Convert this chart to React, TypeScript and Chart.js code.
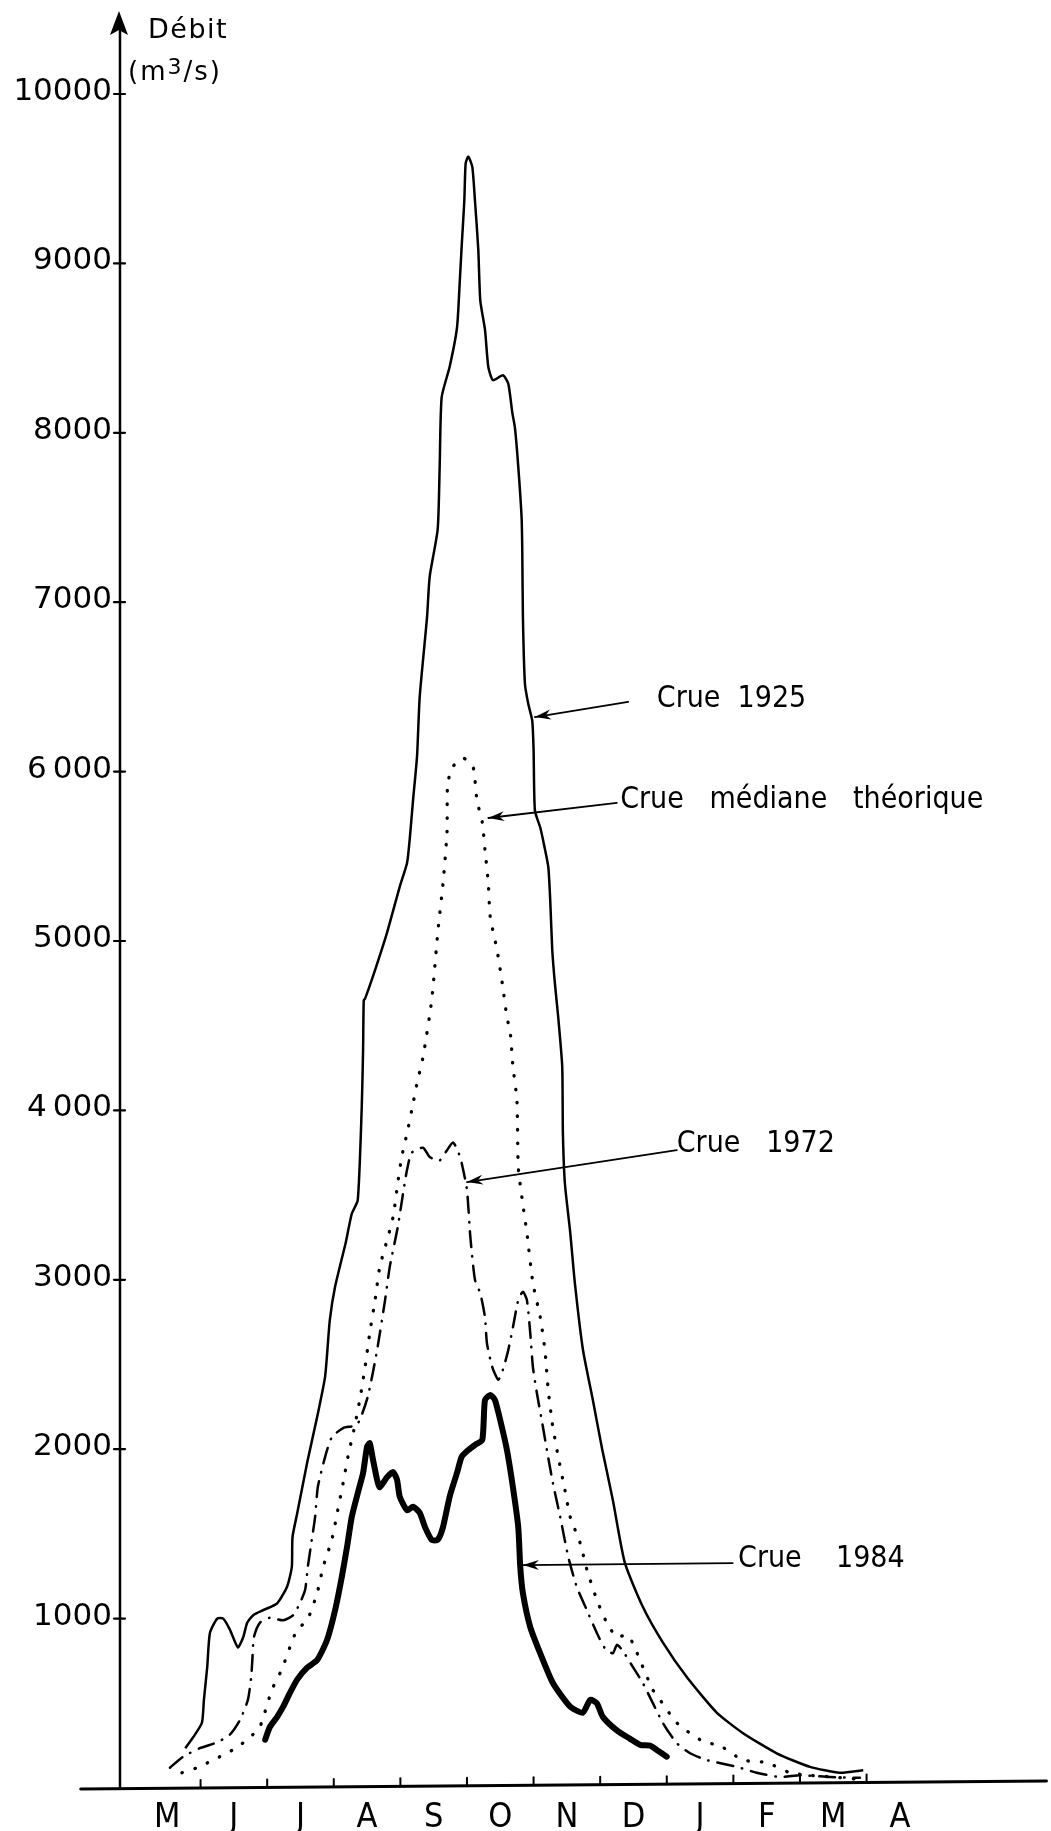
import React, { useEffect, useRef } from 'react';
import { Chart, registerables } from 'chart.js';

Chart.register(...registerables);

// x values are month positions (0 = 1 May, 1 = 1 June, ... 12 = 1 May next year)
// y values are discharge (m3/s)
const months = ['M', 'J', 'J', 'A', 'S', 'O', 'N', 'D', 'J', 'F', 'M', 'A'];
const monthTicks = [1, 2, 3, 4, 5, 6, 7, 8, 9, 10, 11];
const yTickValues = [1000, 2000, 3000, 4000, 5000, 6000, 7000, 8000, 9000, 10000];
const yTickLabels = ['1000', '2000', '3000', '4\u2009000', '5000', '6\u2009000', '7000', '8000', '9000', '10000'];

const crue1925: [number, number][] = [
  [0.77, 235], [0.89, 300], [1.02, 385], [1.05, 520], [1.10, 715], [1.14, 915], [1.25, 1000],
  [1.34, 1000], [1.44, 935], [1.56, 830], [1.64, 890], [1.70, 975], [1.79, 1020], [1.94, 1050],
  [2.15, 1090], [2.30, 1190], [2.37, 1305], [2.38, 1480], [2.45, 1620], [2.60, 1920], [2.75, 2190],
  [2.87, 2430], [2.94, 2760], [3.02, 2960], [3.18, 3220], [3.27, 3390], [3.36, 3470], [3.42, 4020],
  [3.44, 4360], [3.45, 4650], [3.47, 4660], [3.57, 4770], [3.80, 5050], [3.99, 5320], [4.10, 5460],
  [4.14, 5600], [4.19, 5830], [4.25, 6090], [4.29, 6440], [4.40, 6910], [4.44, 7150], [4.56, 7430],
  [4.59, 7800], [4.62, 8210], [4.74, 8390], [4.85, 8620], [4.89, 8880], [4.92, 9100], [4.96, 9370],
  [4.98, 9590], [5.02, 9630], [5.08, 9570], [5.12, 9370], [5.17, 9080], [5.20, 8780], [5.27, 8610],
  [5.32, 8390], [5.39, 8310], [5.54, 8340], [5.62, 8290], [5.68, 8120], [5.72, 8030], [5.77, 7800],
  [5.82, 7500], [5.83, 7310], [5.84, 6910], [5.87, 6520], [5.92, 6400], [5.98, 6300], [6.00, 6130],
  [6.02, 5770], [6.10, 5670], [6.14, 5600], [6.22, 5440], [6.25, 5240], [6.28, 4950], [6.32, 4750],
  [6.37, 4550], [6.43, 4260], [6.44, 3870], [6.47, 3570], [6.55, 3280], [6.62, 2980], [6.74, 2590],
  [6.89, 2290], [7.03, 2000], [7.19, 1700], [7.37, 1330], [7.64, 1070], [7.94, 860], [8.30, 655],
  [8.75, 445], [9.14, 325], [9.65, 205], [10.15, 125], [10.60, 90], [10.95, 105],
];

const crueMediane: [number, number][] = [
  [0.72, 90], [0.95, 120], [1.11, 150], [1.29, 185], [1.55, 240], [1.74, 300], [1.89, 360],
  [2.07, 580], [2.22, 700], [2.34, 830], [2.45, 935], [2.60, 990], [2.75, 1150], [2.84, 1305],
  [2.97, 1465], [3.05, 1620], [3.14, 1800], [3.22, 1970], [3.30, 2110], [3.39, 2290], [3.47, 2485],
  [3.54, 2685], [3.62, 2880], [3.69, 3075], [3.78, 3205], [3.89, 3370], [3.96, 3570], [4.02, 3725],
  [4.10, 3865], [4.17, 4000], [4.25, 4160], [4.34, 4315], [4.47, 4650], [4.56, 5045], [4.64, 5340],
  [4.70, 5640], [4.71, 5930], [4.79, 6030], [4.94, 6080], [5.09, 6030], [5.15, 5830], [5.23, 5700],
  [5.27, 5540], [5.32, 5340], [5.35, 5140], [5.45, 4950], [5.53, 4750], [5.60, 4550], [5.65, 4460],
  [5.69, 4260], [5.75, 4060], [5.77, 3665], [5.83, 3470], [5.90, 3275], [5.99, 2980], [6.10, 2780],
  [6.17, 2585], [6.22, 2350], [6.28, 2155], [6.37, 1955], [6.47, 1760], [6.55, 1600], [6.70, 1445],
  [6.80, 1290], [6.95, 1110], [7.10, 975], [7.25, 890], [7.40, 905], [7.49, 855], [7.64, 715],
  [7.79, 580], [7.90, 520], [8.15, 385], [8.50, 285], [8.84, 240], [9.14, 165], [9.50, 150],
  [9.85, 90], [10.15, 75], [10.50, 65], [10.90, 50],
];

const crue1972: [number, number][] = [
  [0.54, 120], [0.74, 185], [0.99, 235], [1.25, 270], [1.44, 315], [1.59, 400], [1.71, 520],
  [1.76, 655], [1.78, 775], [1.80, 890], [1.89, 975], [2.04, 1005], [2.24, 990], [2.39, 1020],
  [2.49, 1090], [2.57, 1170], [2.61, 1305], [2.67, 1465], [2.72, 1600], [2.76, 1775], [2.87, 1955],
  [2.97, 2070], [3.14, 2125], [3.35, 2145], [3.51, 2310], [3.65, 2585], [3.77, 2880], [3.84, 3075],
  [3.96, 3310], [4.04, 3510], [4.10, 3650], [4.17, 3750], [4.34, 3780], [4.44, 3725], [4.59, 3705],
  [4.70, 3765], [4.79, 3810], [4.86, 3765], [4.92, 3690], [5.00, 3530], [5.05, 3255], [5.12, 3000],
  [5.20, 2920], [5.27, 2780], [5.30, 2625], [5.38, 2485], [5.47, 2410], [5.54, 2470], [5.62, 2585],
  [5.69, 2720], [5.77, 2880], [5.84, 2930], [5.90, 2880], [5.95, 2685], [5.99, 2485], [6.05, 2330],
  [6.13, 2155], [6.20, 1995], [6.29, 1800], [6.40, 1600], [6.52, 1365], [6.65, 1185], [6.80, 1050],
  [6.95, 915], [7.07, 825], [7.19, 795], [7.25, 845], [7.33, 815], [7.49, 715], [7.64, 620],
  [7.94, 385], [8.15, 265], [8.35, 205], [8.60, 165], [9.05, 125], [9.35, 90], [9.70, 65],
  [10.0, 75], [10.45, 65], [10.9, 60],
];

const crue1984: [number, number][] = [
  [1.97, 285], [2.04, 360], [2.15, 420], [2.24, 480], [2.34, 560], [2.45, 640], [2.60, 710],
  [2.75, 755], [2.90, 875], [3.02, 1050], [3.12, 1245], [3.20, 1425], [3.27, 1600], [3.36, 1740],
  [3.44, 1860], [3.50, 2015], [3.54, 2035], [3.59, 1935], [3.65, 1820], [3.69, 1775], [3.80, 1835],
  [3.89, 1865], [3.95, 1820], [3.99, 1720], [4.10, 1640], [4.19, 1660], [4.29, 1625], [4.37, 1540],
  [4.47, 1465], [4.56, 1465], [4.64, 1540], [4.74, 1720], [4.85, 1860], [4.92, 1955], [5.02, 1995],
  [5.12, 2025], [5.23, 2055], [5.27, 2290], [5.35, 2320], [5.42, 2290], [5.50, 2170], [5.60, 1995],
  [5.69, 1775], [5.77, 1540], [5.80, 1305], [5.84, 1150], [5.95, 950], [6.10, 795], [6.29, 620],
  [6.55, 480], [6.74, 445], [6.85, 520], [6.95, 500], [7.04, 420], [7.25, 340], [7.45, 290],
  [7.60, 255], [7.75, 250], [7.85, 225], [8.00, 185],
];

// annotation labels: text, text anchor (month, débit), arrow start and arrow tip
const annotations = [
  { text: 'Crue  1925', tx: 7.85, ty: 6381, ax0: 7.42, ay0: 6411, ax1: 6.02, ay1: 6322 },
  { text: 'Crue   médiane   théorique', tx: 7.30, ty: 5785, ax0: 7.25, ay0: 5815, ax1: 5.32, ay1: 5726 },
  { text: 'Crue   1972', tx: 8.15, ty: 3754, ax0: 8.15, ay0: 3766, ax1: 5.00, ay1: 3577 },
  { text: 'Crue    1984', tx: 9.07, ty: 1305, ax0: 8.99, ay0: 1328, ax1: 5.84, ay1: 1316 },
];

const Y_AXIS_AT = -0.21;
const FONT = '"DejaVu Sans"';
const FONT_COND = '"DejaVu Sans Condensed", "DejaVu Sans"';

const toPts = (arr: [number, number][]) => arr.map(([x, y]) => ({ x, y }));

const setSpacing = (ctx: any, px: number) => {
  if ('letterSpacing' in ctx) ctx.letterSpacing = `${px}px`;
};

const drawPlugin = {
  id: 'handDrawnAxes',
  beforeDraw(chart: any) {
    const ctx = chart.ctx;
    ctx.save();
    ctx.fillStyle = '#ffffff';
    ctx.fillRect(0, 0, chart.width, chart.height);
    ctx.restore();
  },
  afterDatasetsDraw(chart: any) {
    const { ctx } = chart;
    const xs = chart.scales.x;
    const ys = chart.scales.y;
    const x0 = xs.getPixelForValue(Y_AXIS_AT);
    const yb = ys.getPixelForValue(0);
    const slope = 8 / (xs.right - xs.left);
    const baseAt = (px: number) => yb + 1 - slope * (px - xs.left);

    ctx.save();
    ctx.strokeStyle = '#000';
    ctx.fillStyle = '#000';
    ctx.lineCap = 'round';

    // x axis
    ctx.lineWidth = 3;
    ctx.beginPath();
    ctx.moveTo(xs.left, baseAt(xs.left));
    ctx.lineTo(xs.right, baseAt(xs.right));
    ctx.stroke();

    // y axis with arrow
    const yTip = ys.getPixelForValue(10490);
    ctx.lineWidth = 2.5;
    ctx.beginPath();
    ctx.moveTo(x0, baseAt(x0));
    ctx.lineTo(x0, yTip + 12);
    ctx.stroke();
    ctx.beginPath();
    ctx.moveTo(x0 - 1, yTip);
    ctx.lineTo(x0 - 10, yTip + 24);
    ctx.lineTo(x0 - 1, yTip + 19);
    ctx.lineTo(x0 + 8, yTip + 24);
    ctx.closePath();
    ctx.fill();

    // y ticks and labels
    ctx.lineWidth = 2.2;
    ctx.font = `31px ${FONT}`;
    ctx.textAlign = 'right';
    ctx.textBaseline = 'alphabetic';
    yTickValues.forEach((v, i) => {
      const py = ys.getPixelForValue(v);
      ctx.beginPath();
      ctx.moveTo(x0 - 6, py);
      ctx.lineTo(x0 + 5, py);
      ctx.stroke();
      ctx.fillText(yTickLabels[i], x0 - 8, py + 6);
    });

    // month ticks
    ctx.lineWidth = 2;
    monthTicks.forEach((m) => {
      const px = xs.getPixelForValue(m);
      const b = baseAt(px);
      ctx.beginPath();
      ctx.moveTo(px, b);
      ctx.lineTo(px, b - 8);
      ctx.stroke();
    });

    // month labels
    ctx.font = `34px ${FONT_COND}`;
    ctx.textAlign = 'center';
    months.forEach((m, i) => {
      const px = xs.getPixelForValue(i + 0.5);
      ctx.fillText(m, px, yb + 39);
    });

    // axis title
    ctx.textAlign = 'left';
    setSpacing(ctx, 1.5);
    ctx.font = `27px ${FONT}`;
    ctx.fillText('Débit', x0 + 28, yTip + 27);
    setSpacing(ctx, 2);
    let tx = x0 + 8;
    const ty = yTip + 69;
    ctx.font = `26px ${FONT}`;
    ctx.fillText('(m', tx, ty);
    tx += ctx.measureText('(m').width;
    ctx.font = `22px ${FONT}`;
    ctx.fillText('3', tx, ty - 6);
    tx += ctx.measureText('3').width;
    ctx.font = `26px ${FONT}`;
    ctx.fillText('/s)', tx, ty);
    setSpacing(ctx, 0);

    // annotations
    ctx.font = `30px ${FONT_COND}`;
    annotations.forEach((a) => {
      ctx.fillText(a.text, xs.getPixelForValue(a.tx), ys.getPixelForValue(a.ty));
      const sx = xs.getPixelForValue(a.ax0);
      const sy = ys.getPixelForValue(a.ay0);
      const ex = xs.getPixelForValue(a.ax1);
      const ey = ys.getPixelForValue(a.ay1);
      ctx.lineWidth = 1.8;
      ctx.beginPath();
      ctx.moveTo(sx, sy);
      ctx.lineTo(ex, ey);
      ctx.stroke();
      const ang = Math.atan2(ey - sy, ex - sx);
      const len = 16;
      const hw = 5;
      const bx = ex - Math.cos(ang) * len;
      const by = ey - Math.sin(ang) * len;
      const nx = -Math.sin(ang);
      const ny = Math.cos(ang);
      ctx.beginPath();
      ctx.moveTo(ex, ey);
      ctx.lineTo(bx + nx * hw, by + ny * hw);
      ctx.lineTo(ex - Math.cos(ang) * (len - 5), ey - Math.sin(ang) * (len - 5));
      ctx.lineTo(bx - nx * hw, by - ny * hw);
      ctx.closePath();
      ctx.fill();
    });

    ctx.restore();
  },
};

export default function App() {
  const ref = useRef<HTMLCanvasElement | null>(null);

  useEffect(() => {
    if (!ref.current) return;
    const chart = new Chart(ref.current, {
      type: 'line',
      data: {
        datasets: [
          {
            label: 'Crue 1925',
            data: toPts(crue1925),
            borderColor: '#000',
            borderWidth: 2.5,
            tension: 0.2,
            pointRadius: 0,
            fill: false,
          },
          {
            label: 'Crue médiane théorique',
            data: toPts(crueMediane),
            borderColor: '#000',
            borderWidth: 3.3,
            borderDash: [0.5, 13],
            borderCapStyle: 'round',
            tension: 0.2,
            pointRadius: 0,
            fill: false,
          },
          {
            label: 'Crue 1972',
            data: toPts(crue1972),
            borderColor: '#000',
            borderWidth: 2.5,
            borderDash: [16, 9, 0.5, 9],
            borderCapStyle: 'round',
            tension: 0.2,
            pointRadius: 0,
            fill: false,
          },
          {
            label: 'Crue 1984',
            data: toPts(crue1984),
            borderColor: '#000',
            borderWidth: 6,
            borderCapStyle: 'round',
            borderJoinStyle: 'round',
            tension: 0.2,
            pointRadius: 0,
            fill: false,
          },
        ],
      },
      options: {
        animation: false,
        responsive: false,
        devicePixelRatio: 1,
        layout: { padding: { left: 80.7, right: 4.6, top: 9.3, bottom: 43 } },
        plugins: { legend: { display: false }, tooltip: { enabled: false }, title: { display: false } },
        scales: {
          x: { type: 'linear', display: false, min: -0.8, max: 13.7 },
          y: { type: 'linear', display: false, min: 0, max: 10500 },
        },
      },
      plugins: [drawPlugin],
    } as any);
    return () => chart.destroy();
  }, []);

  return (
    <div style={{ position: 'absolute', left: 0, top: 0, width: 1051, height: 1831, background: '#fff' }}>
      <canvas ref={ref} width={1051} height={1831} style={{ display: 'block', width: 1051, height: 1831 }} />
    </div>
  );
}
